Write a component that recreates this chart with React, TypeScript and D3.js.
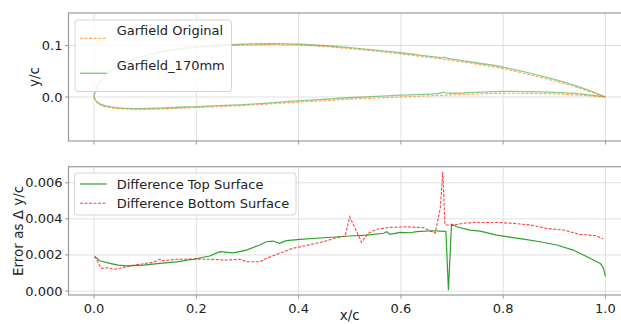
import React from "react";
import * as d3 from "d3";

// ---------- Data ----------
// Airfoil: Garfield_170mm (green)
const g170UpperX = [0, 0.003, 0.01, 0.025, 0.05, 0.1, 0.15, 0.2, 0.27, 0.35, 0.4, 0.5, 0.6, 0.68, 0.685, 0.69, 0.8, 0.9, 0.95, 1.0];
const g170UpperY = [0, 0.012, 0.027, 0.045, 0.062, 0.08, 0.091, 0.097, 0.1015, 0.1035, 0.1025, 0.096, 0.086, 0.0765, 0.0775, 0.0755, 0.058, 0.034, 0.019, 0.0];
const g170LowerX = [0, 0.005, 0.015, 0.035, 0.076, 0.13, 0.2, 0.3, 0.4, 0.5, 0.6, 0.675, 0.682, 0.69, 0.8, 0.9, 0.95, 1.0];
const g170LowerY = [0, -0.009, -0.015, -0.0195, -0.0225, -0.0215, -0.0187, -0.0142, -0.0075, -0.0015, 0.0035, 0.007, 0.0095, 0.0075, 0.011, 0.009, 0.006, 0.0];
// Airfoil: Garfield Original (orange)
const origUpperX = [0.27, 0.35, 0.4, 0.5, 0.6, 0.7, 0.8, 0.9, 0.95, 1.0];
const origUpperY = [0.1005, 0.102, 0.101, 0.094, 0.0835, 0.071, 0.055, 0.031, 0.017, 0.0];
const origLowerX = [0, 0.005, 0.015, 0.035, 0.076, 0.13, 0.2, 0.3, 0.4, 0.5, 0.6, 0.7, 0.8, 0.9, 0.95, 1.0];
const origLowerY = [0, -0.01, -0.017, -0.021, -0.024, -0.0232, -0.0205, -0.016, -0.01, -0.0045, 0.0, 0.004, 0.0072, 0.006, 0.0035, 0.0];

// Differences
const topDiffX = [0.0014, 0.011, 0.031, 0.047, 0.063, 0.096, 0.129, 0.161, 0.194, 0.226, 0.246, 0.272, 0.298, 0.324, 0.337, 0.35, 0.363, 0.376, 0.403, 0.442, 0.5, 0.533, 0.566, 0.572, 0.579, 0.598, 0.618, 0.631, 0.663, 0.677, 0.688, 0.693, 0.699, 0.709, 0.735, 0.755, 0.787, 0.807, 0.84, 0.872, 0.905, 0.937, 0.964, 0.99, 0.996, 1.0];
const topDiffY = [0.0019, 0.00168, 0.00153, 0.00144, 0.00139, 0.00144, 0.00153, 0.00162, 0.00176, 0.00194, 0.00218, 0.00212, 0.00227, 0.00255, 0.00273, 0.00277, 0.00264, 0.00279, 0.00286, 0.00294, 0.00305, 0.0031, 0.0032, 0.00329, 0.00314, 0.00325, 0.00323, 0.00329, 0.00334, 0.00332, 0.0033, 0.00005, 0.0037, 0.00356, 0.00338, 0.00332, 0.0031, 0.00301, 0.00288, 0.00273, 0.00255, 0.00227, 0.0019, 0.00153, 0.00126, 0.00083];
const botDiffX = [0.0014, 0.014, 0.027, 0.037, 0.05, 0.07, 0.089, 0.115, 0.129, 0.135, 0.161, 0.194, 0.226, 0.259, 0.285, 0.298, 0.324, 0.337, 0.357, 0.389, 0.403, 0.448, 0.474, 0.491, 0.5, 0.523, 0.536, 0.553, 0.579, 0.611, 0.644, 0.667, 0.677, 0.682, 0.686, 0.69, 0.703, 0.722, 0.742, 0.787, 0.82, 0.853, 0.885, 0.918, 0.95, 0.983, 0.996];
const botDiffY = [0.00194, 0.00126, 0.00129, 0.0012, 0.00126, 0.00139, 0.00148, 0.00159, 0.00177, 0.00168, 0.00176, 0.00177, 0.00176, 0.00172, 0.00176, 0.00162, 0.00162, 0.00181, 0.00203, 0.00237, 0.00245, 0.00273, 0.00295, 0.00305, 0.00412, 0.0027, 0.0032, 0.00342, 0.00353, 0.00356, 0.00351, 0.0032, 0.00458, 0.0066, 0.0037, 0.00366, 0.00366, 0.00375, 0.0038, 0.0038, 0.00375, 0.00366, 0.00347, 0.00338, 0.00314, 0.00306, 0.00288];

const xTicks = [0, 0.2, 0.4, 0.6, 0.8, 1.0];
const topYTicks = [0.0, 0.1];
const botYTicks = [0, 0.002, 0.004, 0.006];
const labelsTop = ["Garfield Original", "Garfield_170mm"];
const labelsBot = ["Difference Top Surface", "Difference Bottom Surface"];

const W = 621, H = 324;
const FONT = "DejaVu Sans, sans-serif";
const TICK_FS = 13;
const LEG_FS = 13;
const LAB_FS = 13.5;

const zip = (xs: number[], ys: number[]) => xs.map((x, i) => [x, ys[i]] as [number, number]);

export default function App() {
  const left = 68.5, right = 631;
  const x = d3.scaleLinear().domain([-0.05, 1.05]).range([left, right]);
  const t = { top: 13, bottom: 141 };
  const yT = d3.scaleLinear().domain([-0.0855, 0.1632]).range([t.bottom, t.top]);
  const b = { top: 166.7, bottom: 295 };
  const yB = d3.scaleLinear().domain([-0.00022, 0.00689]).range([b.bottom, b.top]);

  const lineT = d3.line<[number, number]>().x(d => x(d[0])).y(d => yT(d[1])).curve(d3.curveCatmullRom);
  const lineB = d3.line<[number, number]>().x(d => x(d[0])).y(d => yB(d[1]));

  const g170 = [...zip(g170UpperX, g170UpperY).reverse(), ...zip(g170LowerX, g170LowerY).slice(1)];
  const origU = zip(origUpperX, origUpperY);
  const origL = zip(origLowerX, origLowerY);

  const grid = "#e0e0e0";
  const spine = "#999";
  const green = "#2ca02c";
  const orange = "#ff7f0e";
  const red = "#ff2020";

  const axesFrame = (top: number, bottom: number) => (
    <rect x={left} y={top} width={right - left} height={bottom - top} fill="none" stroke={spine} strokeWidth={1.2} />
  );

  return (
    <svg width={W} height={H} style={{ position: "absolute", left: 0, top: 0, background: "#fff" }} fontFamily={FONT}>
      <defs>
        <clipPath id="ct"><rect x={left} y={t.top} width={right - left} height={t.bottom - t.top} /></clipPath>
        <clipPath id="cb"><rect x={left} y={b.top} width={right - left} height={b.bottom - b.top} /></clipPath>
      </defs>
      {/* ---------- Top axes ---------- */}
      <g>
        {xTicks.map(v => <line key={"gx" + v} x1={x(v)} x2={x(v)} y1={t.top} y2={t.bottom} stroke={grid} strokeWidth={1} />)}
        {topYTicks.map(v => <line key={"gy" + v} x1={left} x2={right} y1={yT(v)} y2={yT(v)} stroke={grid} strokeWidth={1} />)}
        <g clipPath="url(#ct)">
          <path d={lineT(g170) || ""} fill="none" stroke={green} strokeOpacity={0.55} strokeWidth={1.3} />
          <path d={lineT(origU) || ""} fill="none" stroke={orange} strokeOpacity={0.65} strokeWidth={1.2} strokeDasharray="3,1.5" />
          <path d={lineT(origL) || ""} fill="none" stroke={orange} strokeOpacity={0.65} strokeWidth={1.2} strokeDasharray="3,1.5" />
        </g>
        {axesFrame(t.top, t.bottom)}
        {xTicks.map(v => <line key={"tx" + v} x1={x(v)} x2={x(v)} y1={t.bottom} y2={t.bottom + 3.5} stroke={spine} />)}
        {topYTicks.map(v => (
          <g key={"ty" + v}>
            <line x1={left - 3.5} x2={left} y1={yT(v)} y2={yT(v)} stroke={spine} />
            <text x={left - 6} y={yT(v)} dy="0.35em" textAnchor="end" fontSize={TICK_FS} fill="#222">{v.toFixed(1)}</text>
          </g>
        ))}
        <text transform={`translate(${34},${(t.top + t.bottom) / 2}) rotate(-90)`} textAnchor="middle" dy="0.35em" fontSize={LAB_FS} fill="#222">y/c</text>
        {/* legend */}
        <rect x={75} y={20} width={156.5} height={71.5} rx={3} fill="#fff" fillOpacity={0.8} stroke="#d5d5d5" />
        <line x1={80} x2={106.7} y1={38.3} y2={38.3} stroke={orange} strokeOpacity={0.65} strokeWidth={1.2} strokeDasharray="3,1.5" />
        <text x={116.7} y={30} dy="0.35em" fontSize={LEG_FS} fill="#222">{labelsTop[0]}</text>
        <line x1={80} x2={106.7} y1={73.3} y2={73.3} stroke={green} strokeOpacity={0.55} strokeWidth={1.5} />
        <text x={116.7} y={65} dy="0.35em" fontSize={LEG_FS} fill="#222">{labelsTop[1]}</text>
      </g>

      {/* ---------- Bottom axes ---------- */}
      <g>
        {xTicks.map(v => <line key={"bgx" + v} x1={x(v)} x2={x(v)} y1={b.top} y2={b.bottom} stroke={grid} strokeWidth={1} />)}
        {botYTicks.map(v => <line key={"bgy" + v} x1={left} x2={right} y1={yB(v)} y2={yB(v)} stroke={grid} strokeWidth={1} />)}
        <g clipPath="url(#cb)">
          <path d={lineB(zip(topDiffX, topDiffY)) || ""} fill="none" stroke={green} strokeWidth={1.2} />
          <path d={lineB(zip(botDiffX, botDiffY)) || ""} fill="none" stroke={red} strokeOpacity={0.85} strokeWidth={1.1} strokeDasharray="3,1.5" />
        </g>
        {axesFrame(b.top, b.bottom)}
        {xTicks.map(v => (
          <g key={"bx" + v}>
            <line x1={x(v)} x2={x(v)} y1={b.bottom} y2={b.bottom + 3.5} stroke={spine} />
            <text x={x(v)} y={b.bottom + 8.5} dy="0.71em" textAnchor="middle" fontSize={TICK_FS} fill="#222">{v.toFixed(1)}</text>
          </g>
        ))}
        {botYTicks.map(v => (
          <g key={"by" + v}>
            <line x1={left - 3.5} x2={left} y1={yB(v)} y2={yB(v)} stroke={spine} />
            <text x={left - 6} y={yB(v)} dy="0.35em" textAnchor="end" fontSize={TICK_FS} fill="#222">{v.toFixed(3)}</text>
          </g>
        ))}
        <text transform={`translate(${18},${(b.top + b.bottom) / 2}) rotate(-90)`} textAnchor="middle" dy="0.35em" fontSize={LAB_FS} fill="#222">Error as Δ y/c</text>
        <text x={(left + right) / 2} y={315.5} dy="0.35em" textAnchor="middle" fontSize={LAB_FS} fill="#222">x/c</text>
        {/* legend */}
        <rect x={74.5} y={173} width={221.5} height={42} rx={3} fill="#fff" fillOpacity={0.8} stroke="#d5d5d5" />
        <line x1={80} x2={106.7} y1={184} y2={184} stroke={green} strokeWidth={1.2} />
        <text x={116.7} y={184} dy="0.35em" fontSize={LEG_FS} fill="#222">{labelsBot[0]}</text>
        <line x1={80} x2={106.7} y1={203.3} y2={203.3} stroke={red} strokeOpacity={0.85} strokeWidth={1.1} strokeDasharray="3,1.5" />
        <text x={116.7} y={203.3} dy="0.35em" fontSize={LEG_FS} fill="#222">{labelsBot[1]}</text>
      </g>
    </svg>
  );
}
